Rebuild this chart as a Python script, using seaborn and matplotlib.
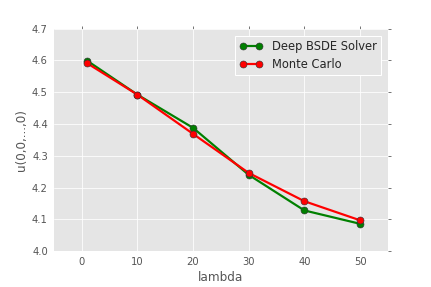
import pandas as pd
import matplotlib
matplotlib.use("Agg")
import matplotlib.pyplot as plt
import seaborn as sns

# values
lambdas = [1, 10, 20, 30, 40, 50]
deep_bsde = [4.599, 4.4925, 4.388, 4.240, 4.128, 4.086]
monte_carlo = [4.591, 4.4925, 4.369, 4.246, 4.157, 4.097]
y_ticks = [4.0, 4.1, 4.2, 4.3, 4.4, 4.5, 4.6, 4.7]
x_ticks = [0, 10, 20, 30, 40, 50]

df = pd.DataFrame({
    "lambda": lambdas * 2,
    "u": deep_bsde + monte_carlo,
    "method": ["Deep BSDE Solver"] * len(lambdas) + ["Monte Carlo"] * len(lambdas),
})

sns.set_style("darkgrid", {
    "axes.facecolor": "#E5E5E5",
    "grid.color": "white",
    "axes.edgecolor": "white",
})
plt.rcParams["font.family"] = ["DejaVu Sans"]

fig = plt.figure(figsize=(431 / 72, 287 / 72), dpi=72)
ax = fig.add_axes([0.125, 0.125, 0.775, 0.775])

sns.lineplot(data=df, x="lambda", y="u", hue="method",
             palette={"Deep BSDE Solver": "green", "Monte Carlo": "red"},
             marker="o", markersize=7, markeredgecolor="#333333", markeredgewidth=0.6,
             linewidth=2.2, ax=ax, legend=False)

# rebuild legend with old-style two markers per entry
handles = [
    plt.Line2D([], [], color="green", marker="o", markersize=7, markeredgecolor="#333333",
               markeredgewidth=0.6, linewidth=2.2),
    plt.Line2D([], [], color="red", marker="o", markersize=7, markeredgecolor="#333333",
               markeredgewidth=0.6, linewidth=2.2),
]
leg = ax.legend(handles, ["Deep BSDE Solver", "Monte Carlo"], loc="upper right",
                numpoints=2, fontsize=11.5, frameon=True, fancybox=False,
                borderaxespad=0.6, handlelength=2.0, labelspacing=0.4)
leg.get_frame().set_facecolor("#E5E5E5")
leg.get_frame().set_edgecolor("white")
leg.get_frame().set_alpha(1)

ax.set_xlim(-5, 55)
ax.set_ylim(4.0, 4.7)
ax.set_xticks(x_ticks)
ax.set_yticks(y_ticks)
ax.set_xlabel("lambda", fontsize=12, color="#555555", labelpad=4)
ax.set_ylabel("u(0,0,...,0)", fontsize=12, color="#555555", labelpad=4)
ax.tick_params(axis="both", which="both", direction="out", length=3, width=0.8,
               color="#555555", labelcolor="#555555", labelsize=10,
               top=True, right=True, pad=3)
for s in ax.spines.values():
    s.set_visible(False)

plt.savefig("out.png", dpi=72)
plt.close()
